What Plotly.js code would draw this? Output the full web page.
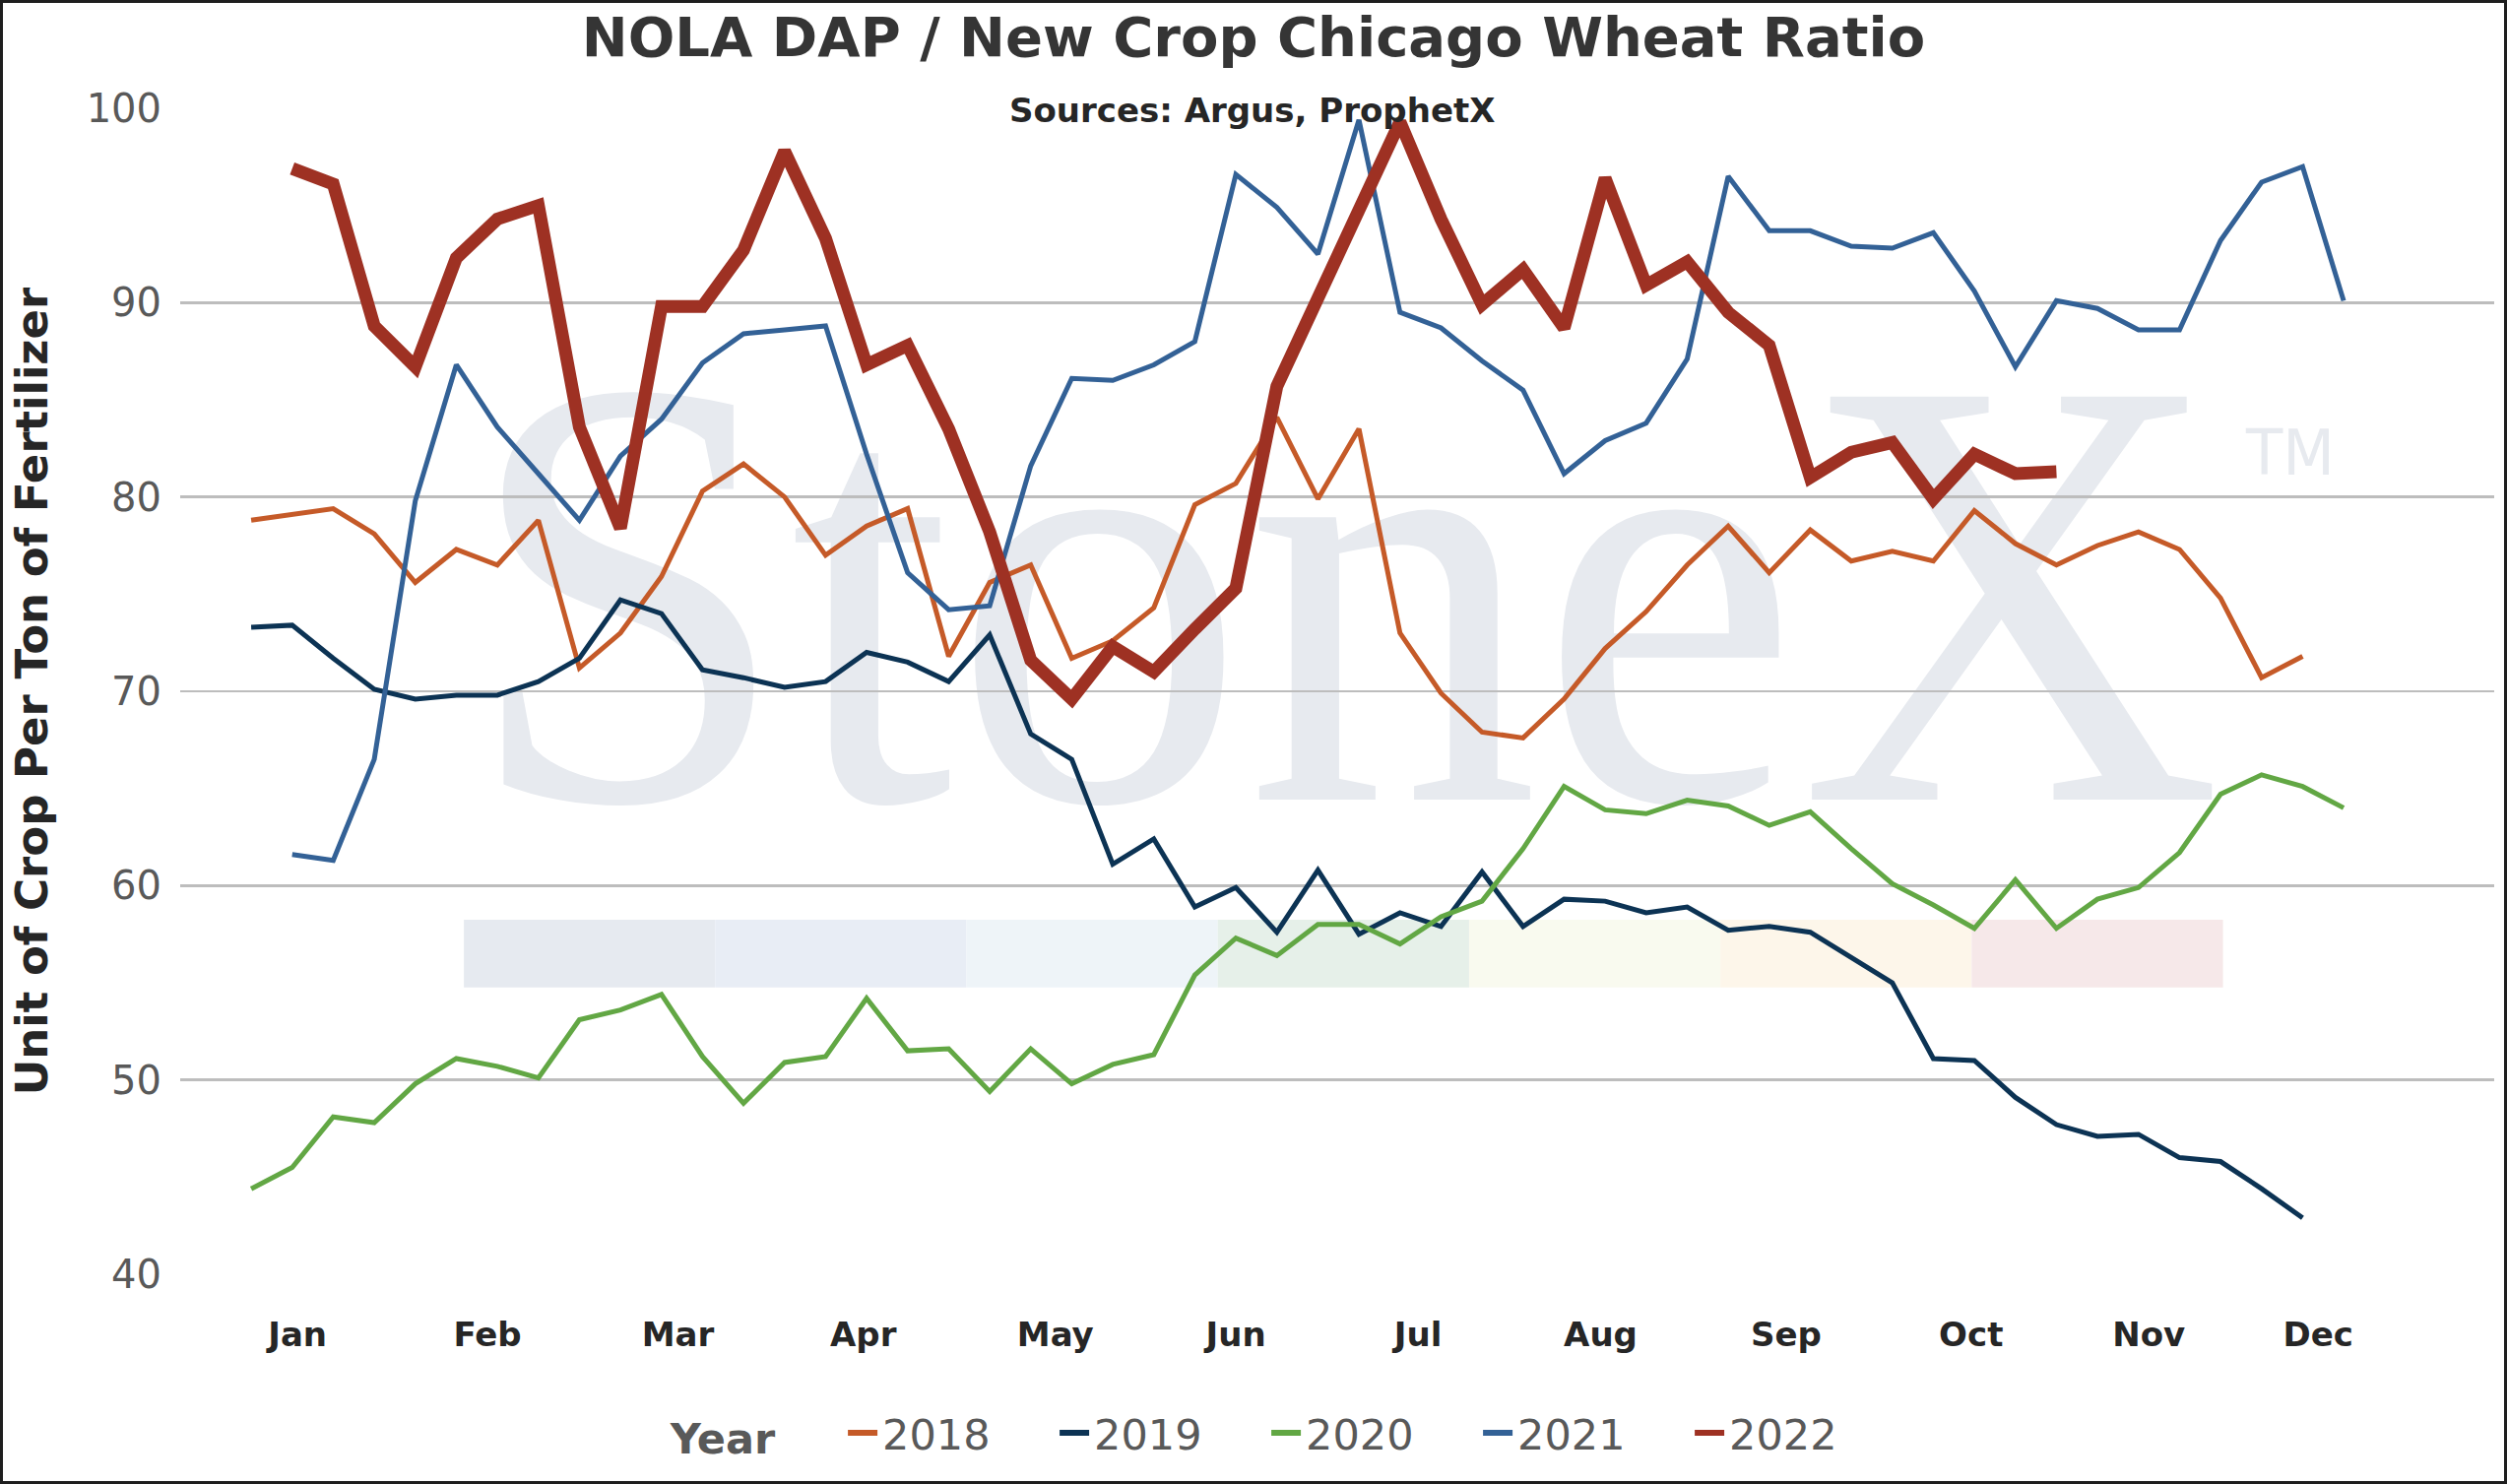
<!DOCTYPE html>
<html>
<head>
<meta charset="utf-8">
<script src="https://cdn.plot.ly/plotly-3.0.1.min.js"></script>
<style>
    html, body { margin: 0; padding: 0; background: #ffffff; }
    #wrap { position: relative; width: 2546px; height: 1507px; overflow: hidden; }
    #watermark { position: absolute; left: 0; top: 0; z-index: 0; }
    #chart { position: absolute; left: 0; top: 0; z-index: 1; }
    #frame {
        position: absolute; left: 0; top: 0; width: 2546px; height: 1507px;
        box-sizing: border-box; border: 3px solid #1e1e1e;
        z-index: 2; pointer-events: none;
    }
</style>
</head>
<body>
<div id="wrap">
    <svg id="watermark" width="2546" height="1507">
        <text x="471" y="812" font-family="Liberation Serif, DejaVu Serif, serif" font-size="625"
              fill="#e7eaef" textLength="1786" lengthAdjust="spacingAndGlyphs">StoneX</text>
        <text x="2281" y="482" font-family="DejaVu Sans, sans-serif" font-size="64"
              fill="#e7eaef" textLength="90" lengthAdjust="spacingAndGlyphs">TM</text>
    </svg>
    <div id="chart"></div>
    <div id="frame"></div>
</div>
<script>
/* ============================================================
   DATEN (Wochen 1..52)
   ============================================================ */

const weeks = [1, 2, 3, 4, 5, 6, 7, 8, 9, 10, 11, 12, 13, 14, 15, 16, 17, 18, 19, 20,
    21, 22, 23, 24, 25, 26, 27, 28, 29, 30, 31, 32, 33, 34, 35, 36, 37, 38, 39, 40,
    41, 42, 43, 44, 45, 46, 47, 48, 49, 50, 51, 52];

const y2018 = [78.8, 79.1, 79.4, 78.1, 75.6, 77.3, 76.5, 78.8, 71.2, 73.0,
    75.9, 80.3, 81.7, 80.0, 77.0, 78.5, 79.4, 71.8, 75.6, 76.5,
    71.7, 72.6, 74.3, 79.6, 80.7, 84.1, 79.9, 83.5, 73.0, 69.9,
    67.9, 67.6, 69.6, 72.2, 74.1, 76.5, 78.5, 76.1, 78.3, 76.7,
    77.2, 76.7, 79.3, 77.6, 76.5, 77.5, 78.2, 77.3, 74.8, 70.7,
    71.8, null];

const y2019 = [73.3, 73.4, 71.7, 70.1, 69.6, 69.8, 69.8, 70.5, 71.7, 74.7,
    74.0, 71.1, 70.7, 70.2, 70.5, 72.0, 71.5, 70.5, 72.9, 67.8,
    66.5, 61.1, 62.4, 58.9, 59.9, 57.6, 60.8, 57.5, 58.6, 57.9,
    60.7, 57.9, 59.3, 59.2, 58.6, 58.9, 57.7, 57.9, 57.6, 56.3,
    55.0, 51.1, 51.0, 49.1, 47.7, 47.1, 47.2, 46.0, 45.8, 44.4,
    42.9, null];

const y2020 = [44.4, 45.5, 48.1, 47.8, 49.8, 51.1, 50.7, 50.1, 53.1, 53.6,
    54.4, 51.2, 48.8, 50.9, 51.2, 54.2, 51.5, 51.6, 49.4, 51.6,
    49.8, 50.8, 51.3, 55.4, 57.3, 56.4, 58.0, 58.0, 57.0, 58.4,
    59.2, 61.9, 65.1, 63.9, 63.7, 64.4, 64.1, 63.1, 63.8, 61.9,
    60.1, 59.0, 57.8, 60.3, 57.8, 59.3, 59.9, 61.7, 64.7, 65.7,
    65.1, 64.0];

const y2021 = [null, 61.6, 61.3, 66.5, 79.8, 86.8, 83.6, 81.2, 78.8, 82.1,
    84.0, 86.9, 88.4, 88.6, 88.8, 82.2, 76.1, 74.2, 74.4, 81.6,
    86.1, 86.0, 86.8, 88.0, 96.6, 94.9, 92.5, 99.4, 89.5, 88.7,
    87.0, 85.5, 81.2, 82.9, 83.8, 87.1, 96.5, 93.7, 93.7, 92.9,
    92.8, 93.6, 90.6, 86.7, 90.1, 89.7, 88.6, 88.6, 93.2, 96.2,
    97.0, 90.1];

const y2022 = [null, 96.9, 96.1, 88.8, 86.7, 92.3, 94.3, 95.0, 83.6, 78.4,
    89.8, 89.8, 92.7, 97.8, 93.3, 86.8, 87.8, 83.5, 78.2, 71.6,
    69.6, 72.3, 71.0, 73.2, 75.3, 85.7, 90.2, 94.5, 99.3, 94.3,
    89.9, 91.7, 88.7, 96.4, 90.9, 92.1, 89.5, 87.8, 81.0, 82.3,
    82.8, 79.9, 82.2, 81.2, 81.3, null, null, null, null, null,
    null, null];

const monthLabels = ['Jan', 'Feb', 'Mar', 'Apr', 'May', 'Jun', 'Jul', 'Aug', 'Sep', 'Oct', 'Nov', 'Dec'];
const monthPos = [2.13, 6.76, 11.40, 15.92, 20.60, 25.00, 29.44, 33.89, 38.41, 42.92, 47.25, 51.38];

const years = ['2018', '2019', '2020', '2021', '2022'];
const seriesValues = [y2018, y2019, y2020, y2021, y2022];

/* ============================================================
   STIL
   ============================================================ */

const lineColors = ['#c55a28', '#0c3354', '#62a744', '#336196', '#9e3123'];
const lineWidths = [5, 5, 5, 5, 13];
const legendLineWidth = 6;

// Farbbalken aus dem Logo (unter den Linien)
const bandColors = ['#e6eaf0', '#e8edf5', '#eef4f8', '#e6f0e9', '#f9faef', '#fdf6ea', '#f6e8e9'];

const FONT = 'DejaVu Sans, Verdana, sans-serif';

function bandShapes() {
    const start = 0.1226, w = 0.1086;
    return bandColors.map((c, k) => ({
        type: 'rect', xref: 'paper', yref: 'paper', layer: 'below',
        x0: start + k * w, x1: start + (k + 1) * w, y0: 0.246, y1: 0.304,
        fillcolor: c, line: { width: 0 }
    }));
}

/* ============================================================
   PLOT
   ============================================================ */

// Linien selbst (ohne Legende, damit 2022 in der Legende nicht dick ist)
const lineTraces = years.map((name, k) => ({
    x: weeks,
    y: seriesValues[k],
    name: name,
    type: 'scatter',
    mode: 'lines',
    showlegend: false,
    line: { color: lineColors[k], width: lineWidths[k] }
}));

// nur Legendeneintraege, alle gleich dick
const legendTraces = years.map((name, k) => ({
    x: [null],
    y: [null],
    name: name,
    type: 'scatter',
    mode: 'lines',
    showlegend: true,
    line: { color: lineColors[k], width: legendLineWidth }
}));

const layout = {
    width: 2546,
    height: 1507,
    paper_bgcolor: 'rgba(0,0,0,0)',
    plot_bgcolor: 'rgba(0,0,0,0)',
    margin: { l: 183, r: 13, t: 110, b: 213 },
    title: {
        text: 'NOLA DAP / New Crop Chicago Wheat Ratio',
        x: 0.5, xref: 'container', xanchor: 'center',
        y: 0.975, yref: 'container', yanchor: 'middle',
        font: { family: FONT, size: 56, color: '#353535', weight: 'bold' }
    },
    xaxis: {
        range: [-0.73, 55.67],
        tickmode: 'array',
        tickvals: monthPos,
        ticktext: monthLabels,
        showgrid: false,
        zeroline: false,
        showline: false,
        ticks: '',
        ticklabelstandoff: 38,
        tickfont: { family: FONT, size: 34, color: '#262626', weight: 'bold' }
    },
    yaxis: {
        range: [40, 100],
        dtick: 10,
        showgrid: true,
        gridcolor: '#bdbdbd',
        gridwidth: 2.5,
        zeroline: false,
        showline: false,
        ticks: '',
        ticklabelstandoff: 18,
        tickfont: { family: FONT, size: 40, color: '#595959' },
        title: {
            text: 'Unit of Crop Per Ton of Fertilizer',
            standoff: 24,
            font: { family: FONT, size: 45, color: '#262626', weight: 'bold' }
        }
    },
    showlegend: true,
    legend: {
        orientation: 'h',
        x: 0.4775, xanchor: 'center',
        y: -0.136, yanchor: 'middle',
        entrywidth: 170,
        entrywidthmode: 'pixels',
        itemwidth: 30,
        font: { family: FONT, size: 43, color: '#595959' },
        title: {
            text: 'Year\u00a0\u00a0\u00a0\u00a0',
            side: 'left',
            font: { family: FONT, size: 43, color: '#595959', weight: 'bold' }
        }
    },
    shapes: bandShapes(),
    annotations: [{
        text: 'Sources: Argus, ProphetX',
        xref: 'paper', yref: 'paper',
        x: 0.463, y: 0.998,
        xanchor: 'center', yanchor: 'middle',
        showarrow: false,
        font: { family: FONT, size: 34, color: '#262626', weight: 'bold' }
    }]
};

Plotly.newPlot('chart', lineTraces.concat(legendTraces), layout, { displayModeBar: false, staticPlot: true });
</script>
</body>
</html>
